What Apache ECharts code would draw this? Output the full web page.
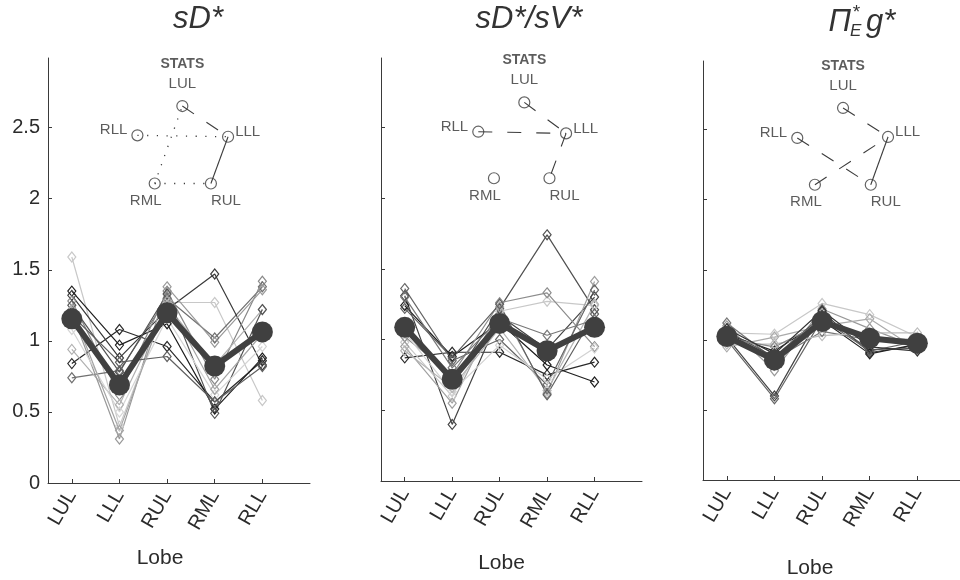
<!DOCTYPE html>
<html>
<head>
<meta charset="utf-8">
<script src="https://cdn.jsdelivr.net/npm/echarts@6/dist/echarts.min.js"></script>
<style>
  html, body { margin: 0; padding: 0; background: #fff; }
  #chart { width: 960px; height: 580px; }
</style>
</head>
<body>
<div id="chart"></div>
<script>
// Lobe categories and y tick values
const lobes = ['LUL', 'LLL', 'RUL', 'RML', 'RLL'];
const yTickValues = [0, 0.5, 1, 1.5, 2, 2.5];

// sD* : one row per subject, columns follow `lobes`
const sdSubjects = [
  [1.59, 0.40, 1.27, 1.27, 0.58],
  [0.84, 1.08, 0.96, 0.57, 0.86],
  [0.74, 0.79, 1.30, 1.02, 1.38],
  [1.32, 0.88, 1.22, 1.47, 0.83],
  [1.35, 0.97, 1.12, 0.52, 0.88],
  [1.28, 0.62, 1.35, 0.73, 1.42],
  [0.94, 0.55, 1.25, 0.83, 1.22],
  [1.20, 0.31, 1.38, 0.99, 1.36],
  [1.25, 0.78, 1.33, 0.49, 1.22],
  [1.08, 0.50, 1.16, 0.62, 0.96],
  [1.18, 0.85, 0.89, 0.57, 0.82],
  [1.22, 0.37, 1.28, 0.66, 1.05]
];
const sdMean = [1.155, 0.69, 1.197, 0.823, 1.063];

// sD*/sV*
const ratioSubjects = [
  [1.10, 0.70, 1.22, 1.74, 1.21],
  [0.87, 0.91, 0.91, 0.75, 0.84],
  [1.24, 0.88, 1.12, 0.82, 0.70],
  [1.31, 0.40, 1.17, 0.93, 1.30],
  [0.98, 0.60, 1.20, 1.27, 1.24],
  [1.02, 0.75, 1.26, 1.33, 0.95],
  [0.95, 0.55, 1.23, 0.62, 1.41],
  [1.36, 0.85, 1.00, 0.68, 1.35],
  [0.92, 0.66, 1.08, 0.64, 1.25],
  [1.30, 0.80, 1.15, 1.03, 1.14],
  [1.05, 0.63, 0.96, 0.72, 0.94],
  [1.22, 0.87, 1.25, 0.61, 1.18]
];
const ratioMean = [1.086, 0.719, 1.114, 0.921, 1.086];

// ΠE* g*
const piSubjects = [
  [1.05, 1.04, 1.26, 1.18, 1.02],
  [1.02, 0.60, 1.20, 0.91, 0.96],
  [1.00, 0.58, 1.15, 0.92, 0.99],
  [1.10, 0.78, 1.22, 1.08, 0.95],
  [1.04, 0.92, 1.14, 0.90, 0.97],
  [0.95, 1.02, 1.10, 1.15, 0.93],
  [1.12, 0.86, 1.06, 1.00, 0.98],
  [0.97, 0.97, 1.03, 1.05, 1.05],
  [1.06, 0.88, 1.17, 0.93, 0.94],
  [1.01, 0.95, 1.12, 1.02, 1.00],
  [1.08, 0.90, 1.21, 0.95, 0.92]
];
const piMean = [1.024, 0.857, 1.131, 1.012, 0.976];

// Pairwise lobe comparisons shown in each STATS diagram (level: high / mid / low)
const sdStatsEdges = [['LUL', 'LLL', 'mid'], ['LLL', 'RUL', 'high'], ['RLL', 'LLL', 'low'], ['RML', 'RUL', 'low'], ['RML', 'LUL', 'low']];
const ratioStatsEdges = [['LUL', 'LLL', 'mid'], ['RLL', 'LLL', 'mid'], ['LLL', 'RUL', 'mid']];
const piStatsEdges = [['LUL', 'LLL', 'mid'], ['RLL', 'RUL', 'mid'], ['RML', 'LLL', 'mid'], ['LLL', 'RUL', 'high']];

// ---- styling / layout ----
const FONT = '"Liberation Sans", Arial, Helvetica, sans-serif';
const AXIS_COLOR = '#3a3a3a';
const TEXT_COLOR = '#2b2b2b';

// grey level of each subject trace, per panel
const subjectShades = [
  ['#c8c8c8', '#2a2a2a', '#707070', '#3a3a3a', '#1e1e1e', '#888888',
   '#b0b0b0', '#999999', '#555555', '#d5d5d5', '#606060', '#a5a5a5'],
  ['#505050', '#2a2a2a', '#1e1e1e', '#444444', '#c8c8c8', '#8c8c8c',
   '#a0a0a0', '#666666', '#b4b4b4', '#787878', '#d2d2d2', '#606060'],
  ['#c8c8c8', '#444444', '#666666', '#999999', '#222222', '#aaaaaa',
   '#777777', '#bbbbbb', '#555555', '#888888', '#333333']
];

// pentagon layout of the STATS diagram, in axis units of each panel
const statsLayouts = [
  { LUL: [3.32, 2.652], LLL: [4.28, 2.436], RUL: [3.92, 2.107], RML: [2.74, 2.107], RLL: [2.377, 2.446] },
  { LUL: [3.52, 2.676], LLL: [4.40, 2.457], RUL: [4.05, 2.14], RML: [2.88, 2.14], RLL: [2.55, 2.469] },
  { LUL: [3.44, 2.655], LLL: [4.384, 2.448], RUL: [4.022, 2.107], RML: [2.849, 2.107], RLL: [2.479, 2.441] }
];
const edgeStyles = {
  high: { type: 'solid', width: 1.1 },
  mid: { type: [14, 15], width: 1.1 },
  low: { type: [1.2, 8.5], width: 1.3 }
};
const nodeLabels = {
  LUL: { position: 'top', distance: 6, formatter: '{h|STATS}\n{n|{b}}' },
  LLL: { position: 'right', distance: 1, offset: [0, -5] },
  RLL: { position: 'left', distance: 4, offset: [0, -5] },
  RML: { position: 'bottom', distance: 4, offset: [-9, 0] },
  RUL: { position: 'bottom', distance: 4, offset: [15, 0] }
};

const grids = [
  { left: 48, top: 58, width: 262, height: 425 },
  { left: 381, top: 58, width: 261, height: 423 },
  { left: 703, top: 61, width: 262, height: 419 }
];
const lobeNameGap = [65, 72, 78];
const lobeNameShift = [38, 20, 48];

const panels = [
  { subjects: sdSubjects, mean: sdMean, edges: sdStatsEdges },
  { subjects: ratioSubjects, mean: ratioMean, edges: ratioStatsEdges },
  { subjects: piSubjects, mean: piMean, edges: piStatsEdges }
];

const toPoints = vals => vals.map((v, k) => [k + 1, v]);

const xAxes = grids.map((g, i) => ({
  type: 'value', gridIndex: i, min: 0.5, max: 6,
  axisLine: { show: true, lineStyle: { color: AXIS_COLOR, width: 1 } },
  axisTick: { show: true, inside: true, length: 4, customValues: [1, 2, 3, 4, 5],
              lineStyle: { color: AXIS_COLOR } },
  axisLabel: { customValues: [1, 2, 3, 4, 5], rotate: 60, margin: 9,
               formatter: v => lobes[Math.round(v) - 1],
               fontFamily: FONT, fontSize: 20, color: TEXT_COLOR },
  splitLine: { show: false },
  name: 'Lobe', nameLocation: 'middle', nameGap: lobeNameGap[i],
  nameTextStyle: { fontFamily: FONT, fontSize: 21, color: TEXT_COLOR,
                   padding: [0, lobeNameShift[i], 0, 0] }
}));

const yAxes = grids.map((g, i) => ({
  type: 'value', gridIndex: i, min: 0, max: 2.99,
  axisLine: { show: true, lineStyle: { color: AXIS_COLOR, width: 1 } },
  axisTick: { show: true, inside: true, length: 4, customValues: yTickValues,
              lineStyle: { color: AXIS_COLOR } },
  axisLabel: { show: i === 0, customValues: yTickValues, margin: 8,
               fontFamily: FONT, fontSize: 20, color: TEXT_COLOR },
  splitLine: { show: false }
}));

const series = [];
panels.forEach((p, i) => {
  p.subjects.forEach((row, s) => {
    const c = subjectShades[i][s % subjectShades[i].length];
    series.push({
      type: 'line', xAxisIndex: i, yAxisIndex: i, data: toPoints(row),
      symbol: 'diamond', symbolSize: [8, 10], z: 2,
      lineStyle: { color: c, width: 1.2 },
      itemStyle: { color: 'rgba(255,255,255,0)', borderColor: c, borderWidth: 1.2 },
      silent: true
    });
  });
  series.push({
    type: 'line', xAxisIndex: i, yAxisIndex: i, data: toPoints(p.mean),
    symbol: 'circle', symbolSize: 21, z: 5,
    lineStyle: { color: '#404040', width: 6 },
    itemStyle: { color: '#404040' },
    silent: true
  });
  const layout = statsLayouts[i];
  p.edges.forEach(([a, b, level]) => {
    series.push({
      type: 'line', xAxisIndex: i, yAxisIndex: i, data: [layout[a], layout[b]],
      symbol: 'none', z: 3,
      lineStyle: { color: '#3c3c3c', type: edgeStyles[level].type, width: edgeStyles[level].width },
      silent: true
    });
  });
  series.push({
    type: 'scatter', xAxisIndex: i, yAxisIndex: i, z: 4,
    symbol: 'circle', symbolSize: 11,
    itemStyle: { color: 'rgba(255,255,255,0)', borderColor: '#3c3c3c', borderWidth: 1.2 },
    data: lobes.map(n => ({
      name: n, value: layout[n],
      label: Object.assign({ show: true, formatter: '{b}' }, nodeLabels[n])
    })),
    label: {
      fontFamily: FONT, fontSize: 15, color: '#333',
      rich: {
        h: { fontFamily: FONT, fontSize: 14, fontWeight: 'bold', color: '#333', lineHeight: 20 },
        n: { fontFamily: FONT, fontSize: 15, color: '#333', lineHeight: 20 }
      }
    },
    silent: true
  });
});

// panel titles
const titleFont = sz => 'italic ' + sz + 'px ' + FONT;
const TITLE_COLOR = '#333';
const graphic = [
  { type: 'text', x: 198, y: 19, style: { text: 'sD*', font: titleFont(31), fill: TITLE_COLOR, textAlign: 'center', textVerticalAlign: 'middle' } },
  { type: 'text', x: 529, y: 19, style: { text: 'sD*/sV*', font: titleFont(31), fill: TITLE_COLOR, textAlign: 'center', textVerticalAlign: 'middle' } },
  { type: 'text', x: 851, y: 22, style: { text: 'Π', font: titleFont(31), fill: TITLE_COLOR, textAlign: 'right', textVerticalAlign: 'middle' } },
  { type: 'text', x: 852, y: 13, style: { text: '*', font: titleFont(19), fill: TITLE_COLOR, textAlign: 'left', textVerticalAlign: 'middle' } },
  { type: 'text', x: 850, y: 31, style: { text: 'E', font: titleFont(17), fill: TITLE_COLOR, textAlign: 'left', textVerticalAlign: 'middle' } },
  { type: 'text', x: 866, y: 22, style: { text: 'g*', font: titleFont(31), fill: TITLE_COLOR, textAlign: 'left', textVerticalAlign: 'middle' } }
];

const chart = echarts.init(document.getElementById('chart'), null, { renderer: 'canvas' });
chart.setOption({
  backgroundColor: '#fff',
  animation: false,
  grid: grids.map(g => Object.assign({ containLabel: false, outerBoundsMode: 'none' }, g)),
  xAxis: xAxes,
  yAxis: yAxes,
  series: series,
  graphic: graphic
});
</script>
</body>
</html>
